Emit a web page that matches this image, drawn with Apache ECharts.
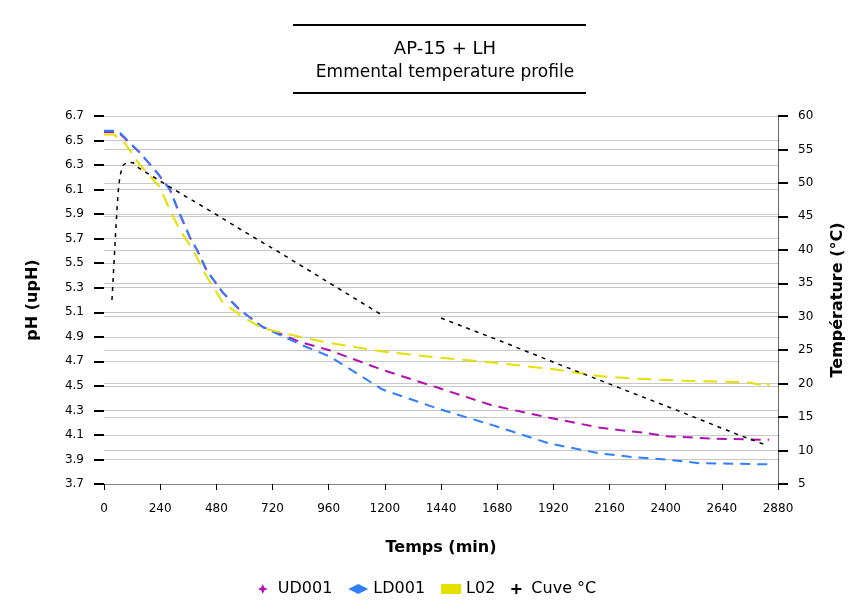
<!DOCTYPE html>
<html>
<head>
<meta charset="utf-8">
<script src="https://cdn.jsdelivr.net/npm/echarts@6/dist/echarts.min.js"></script>
<style>
html,body{margin:0;padding:0;background:#fff;}
#c{width:854px;height:612px;}
</style>
</head>
<body>
<div id="c"></div>
<script>
// ---- data (time in minutes) ----
const seriesNames = ['UD001', 'LD001', 'L02', 'Cuve °C'];

const ud001 = [[0,6.57],[60,6.57],[154,6.40],[226,6.24],[282,6.10],[311,5.96],[367,5.71],[397,5.61],[439,5.44],[508,5.26],[580,5.12],[678,4.98],[836,4.86],[964,4.79],[1190,4.63],[1434,4.48],[1660,4.34],[1903,4.24],[2116,4.16],[2200,4.14],[2300,4.12],[2400,4.09],[2600,4.07],[2842,4.06]];

const ld001 = [[0,6.58],[60,6.58],[154,6.40],[226,6.24],[282,6.10],[311,5.96],[367,5.71],[397,5.61],[439,5.44],[508,5.26],[580,5.12],[678,4.98],[836,4.84],[964,4.74],[1190,4.47],[1434,4.31],[1660,4.18],[1903,4.03],[2116,3.95],[2257,3.92],[2400,3.90],[2543,3.87],[2842,3.86]];

const l02 = [[0,6.55],[40,6.55],[81,6.50],[154,6.30],[239,6.12],[282,5.93],[324,5.77],[380,5.61],[439,5.39],[508,5.18],[593,5.06],[678,4.97],[836,4.90],[964,4.85],[1190,4.78],[1434,4.73],[1660,4.69],[1903,4.64],[2116,4.58],[2257,4.56],[2500,4.54],[2750,4.53],[2800,4.51],[2825,4.54],[2842,4.50]];

const cuve = [[34,32.5],[38,35],[45,39.5],[52,44],[60,48.5],[68,51],[80,52.6],[100,53.1],[125,53],[150,52.2],[300,49.0],[450,45.9],[600,42.7],[750,39.6],[900,36.4],[1050,33.2],[1190,30.2],[1300,null],[1440,29.8],[1700,26.3],[1950,22.8],[2200,19.4],[2450,16.0],[2700,12.5],[2830,10.8]];

const xTicks = {min:0, max:2880, interval:240};
const phAxis = {min:3.7, max:6.7, interval:0.2};
const tAxis = {min:5, max:60, interval:5};

const chart = echarts.init(document.getElementById('c'), null, {renderer:'canvas'});
const fontFam = 'DejaVu Sans, Verdana, sans-serif';
const grey = '#c8c8c8';

const option = {
  animation:false,
  backgroundColor:'#fff',
  title:{
    text:'AP-15 + LH',
    subtext:'Emmental temperature profile',
    left:440, top:35, textAlign:'center',
    itemGap:6,
    textStyle:{fontFamily:fontFam,fontSize:18,fontWeight:'normal',color:'#000'},
    subtextStyle:{fontFamily:fontFam,fontSize:17,color:'#000'}
  },
  graphic:[
    {type:'line',shape:{x1:293,y1:25,x2:586,y2:25},style:{stroke:'#000',lineWidth:2}},
    {type:'line',shape:{x1:293,y1:93,x2:586,y2:93},style:{stroke:'#000',lineWidth:2}}
  ],
  legend:{
    bottom:10, left:'center',
    itemWidth:20, itemHeight:10, itemGap:16,
    textStyle:{fontFamily:fontFam,fontSize:16,color:'#000'},
    data:[
      {name:seriesNames[0],icon:'path://M5,0 L6.5,3.5 L10,5 L6.5,6.5 L5,10 L3.5,6.5 L0,5 L3.5,3.5 Z'},
      {name:seriesNames[1],icon:'diamond'},
      {name:seriesNames[2],icon:'rect'},
      {name:seriesNames[3],icon:'path://M4,0 L6,0 L6,4 L10,4 L10,6 L6,6 L6,10 L4,10 L4,6 L0,6 L0,4 L4,4 Z'}
    ]
  },
  grid:{left:104,right:75,top:116,bottom:128,containLabel:false},
  xAxis:{
    type:'value', min:xTicks.min, max:xTicks.max, interval:xTicks.interval,
    name:'Temps (min)', nameLocation:'middle', nameGap:56,
    nameTextStyle:{fontFamily:fontFam,fontSize:16,fontWeight:'bold',color:'#000'},
    axisLine:{show:true,lineStyle:{color:'#888',width:1}},
    axisTick:{show:true,inside:false,length:6,lineStyle:{color:'#000',width:1}},
    axisLabel:{margin:19,fontFamily:fontFam,fontSize:12,color:'#000',formatter:v=>String(v)},
    splitLine:{show:false}
  },
  yAxis:[
    {
      type:'value', position:'left', min:phAxis.min, max:phAxis.max, interval:phAxis.interval,
      name:'pH (upH)', nameLocation:'middle', nameGap:63, nameRotate:90,
      nameTextStyle:{fontFamily:fontFam,fontSize:16,fontWeight:'bold',color:'#000'},
      axisLine:{show:false},
      axisTick:{show:true,length:10,lineStyle:{color:'#000',width:2}},
      axisLabel:{margin:20,fontFamily:fontFam,fontSize:12,color:'#000',formatter:v=>v.toFixed(1)},
      splitLine:{show:true,lineStyle:{color:grey,width:1}}
    },
    {
      type:'value', position:'right', min:tAxis.min, max:tAxis.max, interval:tAxis.interval,
      name:'Température (°C)', nameLocation:'middle', nameGap:52, nameRotate:90,
      nameTextStyle:{fontFamily:fontFam,fontSize:16,fontWeight:'bold',color:'#000'},
      axisLine:{show:true,lineStyle:{color:'#666',width:1}},
      axisTick:{show:true,length:10,lineStyle:{color:'#000',width:2}},
      axisLabel:{margin:20,fontFamily:fontFam,fontSize:12,color:'#000'},
      splitLine:{show:true,lineStyle:{color:grey,width:1}}
    }
  ],
  series:[
    {name:seriesNames[0],type:'line',yAxisIndex:0,data:ud001,showSymbol:false,
     itemStyle:{color:'#b010b0'},lineStyle:{color:'#b010b0',width:2,type:[10,7]}},
    {name:seriesNames[1],type:'line',yAxisIndex:0,data:ld001,showSymbol:false,
     itemStyle:{color:'#2f7fff'},lineStyle:{color:'#2f7fff',width:2,type:[10,7]}},
    {name:seriesNames[2],type:'line',yAxisIndex:0,data:l02,showSymbol:false,
     itemStyle:{color:'#e6e000'},lineStyle:{color:'#e6e000',width:2,type:[14,8]}},
    {name:seriesNames[3],type:'line',yAxisIndex:1,data:cuve,showSymbol:false,connectNulls:false,
     itemStyle:{color:'#000'},lineStyle:{color:'#000',width:1.5,type:[4,5]}}
  ]
};
chart.setOption(option);
</script>
</body>
</html>
